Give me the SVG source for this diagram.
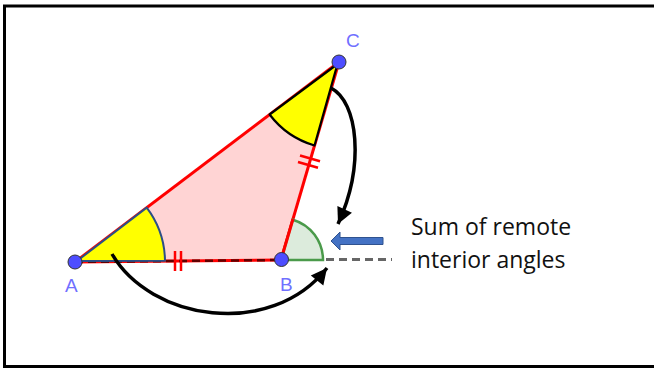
<svg xmlns="http://www.w3.org/2000/svg" width="654" height="368" viewBox="0 0 654 368">
<defs>
<style>
.lbl{font-family:"Liberation Sans",Arial,sans-serif;font-size:19px;fill:#7070ff}
.txt{font-family:"Open Sans","Liberation Sans",sans-serif;font-size:23px;fill:#111}
.pt{fill:#4d4dff;stroke:#333;stroke-width:1}
.red{stroke:#ff0000;stroke-width:3;fill:none}
.tick{stroke:#ff0000;stroke-width:2.5}
.curve{fill:none;stroke:#000;stroke-width:3.5}
</style>
<marker id="ah" markerUnits="userSpaceOnUse" markerWidth="20" markerHeight="20" viewBox="0 0 20 20" refX="18" refY="10" orient="auto">
<path d="M2 2 L18 10 L2 18 Z" fill="#000"/>
</marker>
</defs>
<rect width="654" height="368" fill="#fff"/>
<path d="M656 6 H4.5 V366.5 H656" fill="none" stroke="#000" stroke-width="3"/>

<g id="triangle">
<polygon points="75,262 281,260 339,62" fill="#ffd4d4"/>
</g>

<g id="sides">
<line x1="75" y1="262" x2="339" y2="62" class="red"/>
<line x1="281" y1="260" x2="339" y2="62" class="red"/>
<line x1="75" y1="262" x2="281" y2="260" class="red"/>
<line x1="75" y1="262" x2="281" y2="260" stroke="#600000" stroke-width="2.5" stroke-dasharray="8 5"/>
<line x1="287" y1="259.5" x2="392" y2="259.5" stroke="#666" stroke-width="3" stroke-dasharray="8 5"/>
<line x1="175" y1="251" x2="175" y2="271" class="tick"/>
<line x1="181" y1="251" x2="181" y2="271" class="tick"/>
<line x1="300" y1="155.5" x2="320" y2="161.3" class="tick"/>
<line x1="298" y1="162" x2="318" y2="167.8" class="tick"/>
</g>

<g id="angleA">
<path d="M77 261 L165 260.8 A90 90 0 0 0 146.7 207.6 Z" fill="#ffff00" stroke="#2c4f86" stroke-width="2" stroke-linejoin="round"/>
</g>
<g id="angleC">
<path d="M337.5 64 L269.6 114.5 A87 87 0 0 0 314.5 145.5 Z" fill="#ffff00" stroke="#000" stroke-width="2.2" stroke-linejoin="round"/>
</g>
<g id="angleB">
<path d="M281 260 L323 260 A42 42 0 0 0 292.8 219.7 Z" fill="#dcebdc" stroke="#4a9a4a" stroke-width="2.5"/>
<line x1="281" y1="260" x2="293" y2="219" class="red"/>
</g>

<g id="pointA"><circle cx="75" cy="262" r="7" class="pt"/><text x="65" y="292" class="lbl">A</text></g>
<g id="pointB"><circle cx="281.5" cy="259.5" r="7" class="pt"/><text x="280" y="290.5" class="lbl">B</text></g>
<g id="pointC"><circle cx="339" cy="62" r="7" class="pt"/><text x="346" y="47" class="lbl">C</text></g>

<g id="connectors">
<path d="M331 88 C358 102 365 165 338 224" class="curve" marker-end="url(#ah)"/>
<path d="M112 254 C150 320 270 340 327 268" class="curve" marker-end="url(#ah)"/>
<polygon points="383,237.5 340,237.5 340,232 331,241 340,250 340,244.5 383,244.5" fill="#4472c4" stroke="#2f528f" stroke-width="1"/>
</g>

<g id="note">
<text x="411" y="235" class="txt">Sum of remote</text>
<text x="411" y="268" class="txt">interior angles</text>
</g>
</svg>
